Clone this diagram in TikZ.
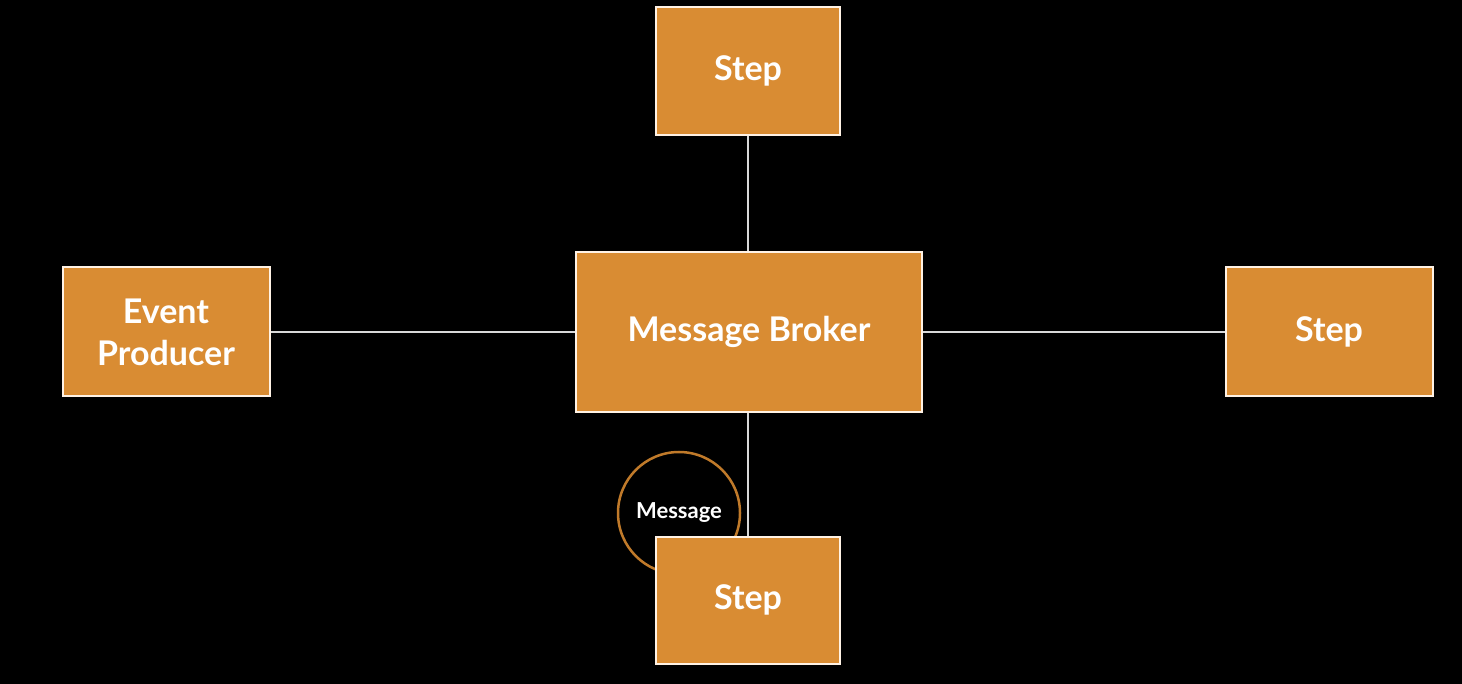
\documentclass[tikz,border=0pt]{standalone}
\usepackage{fontspec}
\setmainfont{Lato}
\definecolor{boxfill}{HTML}{D98C33}
\definecolor{linec}{HTML}{D8D8D8}
\definecolor{ringc}{HTML}{C07A2A}
\begin{document}
\begin{tikzpicture}[x=1pt,y=-1pt,
  box/.style={draw=white!90!orange, line width=2pt, fill=boxfill, text=white,
    font=\bfseries\fontsize{34}{42}\selectfont, align=center, inner sep=0pt},
  conn/.style={draw=linec, line width=2.5pt}]
\fill[black] (0,0) rectangle (1462,684);
\useasboundingbox (0,0) rectangle (1462,684);
\node[circle, draw=ringc, line width=2.5pt, minimum size=122pt, inner sep=0pt,
  font=\bfseries\fontsize{22}{24}\selectfont, text=white] (msg) at (679,513) {Message};
\node[box, minimum width=184pt, minimum height=128pt] (top) at (748,71) {Step};
\node[box, minimum width=346pt, minimum height=160pt] (broker) at (749,332) {Message Broker};
\node[box, minimum width=207pt, minimum height=129pt] (prod) at (166,332) {Event\\Producer};
\node[box, minimum width=207pt, minimum height=129pt] (right) at (1329,332) {Step};
\node[box, minimum width=184pt, minimum height=127pt] (bot) at (748,600) {Step};
\draw[conn] (top.south) -- (broker.north -| top.south);
\draw[conn] (prod.east) -- (broker.west);
\draw[conn] (broker.east) -- (right.west);
\draw[conn] (broker.south -| bot.north) -- (bot.north);
\end{tikzpicture}
\end{document}
